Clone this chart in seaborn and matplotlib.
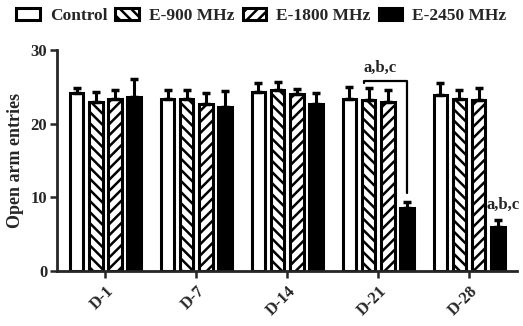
import matplotlib
matplotlib.use("Agg")
import matplotlib.pyplot as plt
import seaborn as sns
import pandas as pd
import numpy as np

days = ['D-1', 'D-7', 'D-14', 'D-21', 'D-28']
groups = ['Control', 'E-900 MHz', 'E-1800 MHz', 'E-2450 MHz']
control = [24.2, 23.3, 24.3, 23.4, 23.9]
control_err = [0.6, 1.3, 1.2, 1.6, 1.6]
e900 = [22.9, 23.4, 24.6, 23.2, 23.4]
e900_err = [1.4, 1.1, 1.1, 1.6, 1.2]
e1800 = [23.3, 22.7, 24.0, 22.9, 23.2]
e1800_err = [1.2, 1.5, 0.7, 1.6, 1.6]
e2450 = [23.6, 22.3, 22.6, 8.6, 6.0]
e2450_err = [2.5, 2.1, 1.5, 0.8, 0.9]
ylabel = 'Open arm entries'
yticks = [0, 10, 20, 30]

sns.set_style('ticks')
plt.rcParams['font.family'] = ['Liberation Serif', 'DejaVu Serif']
plt.rcParams['font.weight'] = 'bold'
plt.rcParams['hatch.linewidth'] = 1.8

vals = [control, e900, e1800, e2450]
errs = [control_err, e900_err, e1800_err, e2450_err]
rows = []
for g, v, e in zip(groups, vals, errs):
    for d, vv, ee in zip(days, v, e):
        rows.append({'day': d, 'group': g, 'value': vv, 'err': ee})
df = pd.DataFrame(rows)

fig = plt.figure(figsize=(5.23, 3.26), dpi=100)
ax = fig.add_axes([0.109, 0.169, 0.880, 0.678])

palette = {'Control': 'white', 'E-900 MHz': 'white', 'E-1800 MHz': 'white', 'E-2450 MHz': 'black'}
sns.barplot(data=df, x='day', y='value', hue='group', order=days, hue_order=groups,
            palette=palette, errorbar=None, width=0.84, gap=0.28,
            edgecolor='black', linewidth=2.2, ax=ax, legend=True)

hatches = ['', '\\\\\\', '///', '']
for cont, h, g in zip(ax.containers, hatches, groups):
    sub = df[df.group == g].set_index('day').loc[days]
    xs, tops = [], []
    for p in cont.patches:
        p.set_hatch(h)
        xs.append(p.get_x() + p.get_width() / 2)
        tops.append(p.get_height())
    ax.errorbar(xs, tops, yerr=[np.zeros(len(xs)), sub['err'].values], fmt='none',
                ecolor='black', elinewidth=2.2, capsize=3, capthick=2.5, zorder=1)

# legend handles hatches
handles, labels = ax.get_legend_handles_labels()
for hnd, h in zip(handles, hatches):
    hnd.set_hatch(h)
    hnd.set_linewidth(2.2)
ax.legend_.remove()
fig.legend(handles, labels, loc='center', bbox_to_anchor=(0.5, 0.951), ncol=4,
           frameon=False, prop={'family': 'Liberation Serif', 'weight': 'bold', 'size': 12.5},
           handlelength=1.35, handleheight=0.75, handletextpad=0.6, columnspacing=0.45,
           borderaxespad=0)

# significance annotations
c4 = ax.containers[3].patches
c2 = ax.containers[1].patches
xr = c4[3].get_x() + c4[3].get_width() / 2
xl = c2[3].get_x() + c2[3].get_width() / 2 - 0.05
ax.plot([xl, xl, xr, xr], [25.5, 25.8, 25.8, 10.6], color='black', lw=1.6,
        solid_joinstyle='round', clip_on=False)
ax.text(3.02, 27.5, 'a,b,c', ha='center', va='center', fontsize=12, fontweight='bold')
ax.text(4.37, 8.9, 'a,b,c', ha='center', va='center', fontsize=12, fontweight='bold')

ax.set_ylim(0, 30)
ax.set_xlim(-0.53, 4.53)
ax.set_yticks(yticks)
ax.set_xlabel('')
ax.set_ylabel(ylabel, fontsize=13, fontweight='bold', labelpad=5)
ax.tick_params(axis='both', direction='out', length=5, width=1.8, labelsize=12)
ax.tick_params(axis='y', pad=2)
for lab in ax.get_yticklabels():
    lab.set_fontweight('bold')
ax.set_xticks(range(len(days)))
ax.set_xticklabels(days, rotation=45, ha='right', rotation_mode='anchor', fontweight='bold')
sns.despine(ax=ax)
for s in ['left', 'bottom']:
    ax.spines[s].set_linewidth(2)

fig.savefig('out.png', dpi=100)
